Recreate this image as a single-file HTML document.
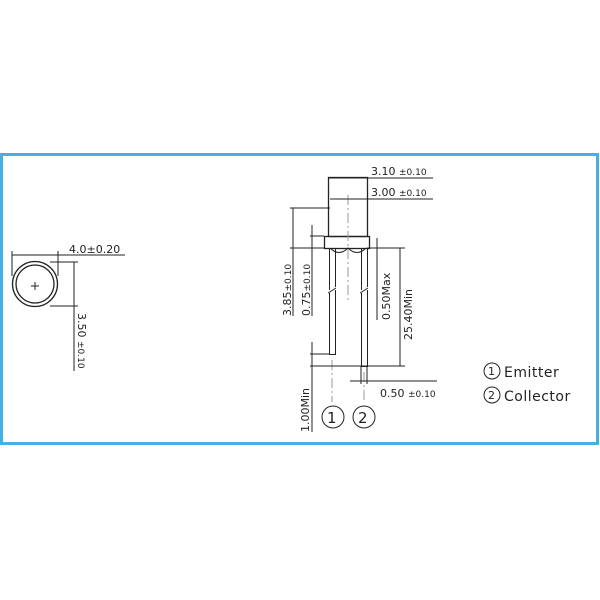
<!DOCTYPE html>
<html><head><meta charset="utf-8"><style>
html,body{margin:0;padding:0;background:#fff;}
svg{display:block;font-family:"DejaVu Sans","Liberation Sans",sans-serif;}
</style></head><body>
<svg width="600" height="600" viewBox="0 0 600 600" xmlns="http://www.w3.org/2000/svg">
<rect x="1.5" y="154.5" width="596" height="289" fill="none" stroke="#45b0e4" stroke-width="3"/>
<g stroke="#222" stroke-width="1" fill="none">
<circle cx="35" cy="284" r="22.5" stroke-width="1.3"/>
<circle cx="35" cy="284" r="19" stroke-width="1.3"/>
<line x1="31" y1="286" x2="39" y2="286"/><line x1="35" y1="282" x2="35" y2="290"/>
<line x1="12" y1="251" x2="12" y2="276"/><line x1="58" y1="251" x2="58" y2="276"/>
<line x1="12" y1="255" x2="125" y2="255"/>
<line x1="50" y1="262" x2="78" y2="262"/><line x1="50" y1="306" x2="78" y2="306"/>
<line x1="74" y1="262" x2="74" y2="371"/>
<rect x="328.5" y="177.5" width="39" height="59" stroke-width="1.3"/>
<rect x="324.5" y="236.5" width="45" height="12" stroke-width="1.3"/>
<path d="M330 248 q9 9 18 0 q9 9 18 0"/>
<path d="M329.5 249 V290 M335.5 249 V287 M329.5 293 V354.5 H335.5 V290"/>
<path d="M361.5 249 V290 M367.5 249 V287 M361.5 293 V366.5 H367.5 V290"/>
<line x1="328" y1="293" x2="336" y2="288"/><line x1="360" y1="293" x2="368" y2="288"/>
<g stroke="#999" stroke-dasharray="10,3,2,3">
<line x1="348" y1="195" x2="348" y2="300"/>
<line x1="332" y1="360" x2="332" y2="402"/>
<line x1="364" y1="372" x2="364" y2="402"/>
</g>
<line x1="328" y1="178" x2="433" y2="178"/>
<line x1="330" y1="199" x2="433" y2="199"/>
<line x1="290" y1="208" x2="330" y2="208"/>
<line x1="293" y1="208" x2="293" y2="316"/>
<line x1="310" y1="236" x2="324" y2="236"/>
<line x1="290" y1="248" x2="324" y2="248"/>
<line x1="312" y1="225" x2="312" y2="316"/>
<line x1="377" y1="238" x2="377" y2="320"/>
<line x1="367" y1="248" x2="405" y2="248"/>
<line x1="310" y1="366" x2="405" y2="366"/>
<line x1="400" y1="248" x2="400" y2="366"/>
<line x1="310" y1="354" x2="329" y2="354"/>
<line x1="312" y1="342" x2="312" y2="432"/>
<line x1="361" y1="366" x2="361" y2="384"/><line x1="367" y1="366" x2="367" y2="384"/>
<line x1="350" y1="381" x2="437" y2="381"/>
<circle cx="333" cy="417" r="11"/><circle cx="364" cy="417" r="11"/>
<circle cx="492" cy="371" r="8"/><circle cx="492" cy="395" r="8"/>
</g>
<g fill="#222" font-size="11">
<text x="69" y="253">4.0±0.20</text>
<text transform="translate(78,313) rotate(90)">3.50 <tspan font-size="9">±0.10</tspan></text>
<text x="371" y="175">3.10 <tspan font-size="9">±0.10</tspan></text>
<text x="371" y="196">3.00 <tspan font-size="9">±0.10</tspan></text>
<text transform="translate(291,316) rotate(-90)">3.85<tspan font-size="9">±0.10</tspan></text>
<text transform="translate(310,316) rotate(-90)">0.75<tspan font-size="9">±0.10</tspan></text>
<text transform="translate(390,320) rotate(-90)">0.50Max</text>
<text transform="translate(412,340) rotate(-90)">25.40Min</text>
<text transform="translate(309,432) rotate(-90)">1.00Min</text>
<text x="380" y="397">0.50 <tspan font-size="9">±0.10</tspan></text>
<text x="327" y="423" font-size="15">1</text>
<text x="358" y="423" font-size="15">2</text>
<text x="488" y="375" font-size="11">1</text>
<text x="488" y="399" font-size="11">2</text>
<text x="504" y="377" font-size="14" letter-spacing="0.5">Emitter</text>
<text x="504" y="401" font-size="14" letter-spacing="0.5">Collector</text>
</g>
</svg>
</body></html>
